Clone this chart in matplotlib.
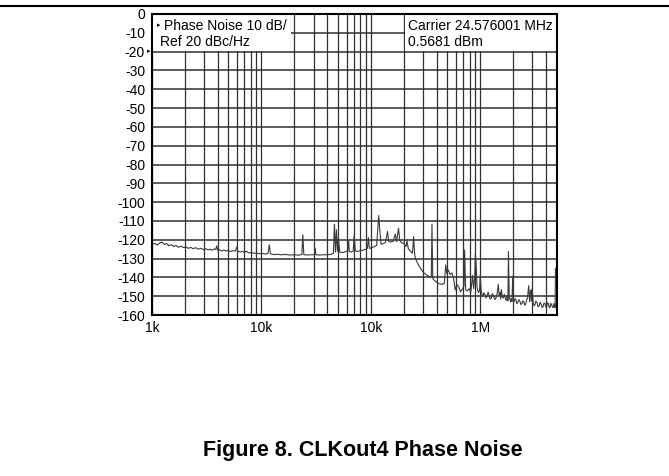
import matplotlib
matplotlib.use("Agg")
import matplotlib.pyplot as plt
from matplotlib.lines import Line2D
from matplotlib.patches import Rectangle
from matplotlib.ticker import FixedLocator, NullFormatter

plt.rcParams["font.family"] = ["Liberation Sans", "DejaVu Sans"]

# offset frequency (Hz) and phase noise (dBc/Hz)
freq_hz = [
    1000, 1060, 1120, 1180, 1240, 1300, 1360, 1420, 1500, 1580,
    1660, 1750, 1840, 1940, 2050, 2150, 2260, 2380, 2500, 2650,
    2800, 2950, 3100, 3250, 3400, 3550, 3700, 3820, 3900, 3980,
    4150, 4350, 4550, 4750, 4950, 5200, 5500, 5800, 5950, 6100,
    6400, 6700, 7000, 7300, 7600, 8000, 8500, 9000, 9600, 10200,
    11000, 11500, 11800, 12100, 13000, 14000, 15000, 16500, 18000, 20000,
    22000, 23400, 23900, 24400, 26000, 28000, 30500, 31000, 31500, 34000,
    37000, 40000, 43000, 45500, 46500, 47500, 48500, 49500, 50500, 52000,
    55000, 58000, 61500, 62500, 63500, 66000, 69000, 70500, 72000, 76000,
    80000, 85000, 90000, 93000, 95000, 97000, 102000, 108000, 113000, 118000,
    121000, 124000, 130000, 136000, 142000, 146000, 152000, 160000, 167000, 172000,
    179000, 184000, 190000, 200000, 210000, 214000, 220000, 230000, 240000, 246000,
    252000, 262000, 275000, 290000, 305000, 320000, 335000, 350000, 357000, 362000,
    368000, 380000, 400000, 420000, 445000, 470000, 483000, 495000, 510000, 530000,
    550000, 570000, 590000, 610000, 635000, 660000, 690000, 710000, 720000, 735000,
    760000, 790000, 820000, 850000, 870000, 890000, 902000, 915000, 935000, 960000,
    985000, 1000000, 1020000, 1050000, 1080000, 1100000, 1130000, 1150000, 1180000, 1200000,
    1230000, 1260000, 1290000, 1320000, 1360000, 1400000, 1430000, 1460000, 1490000, 1510000,
    1540000, 1560000, 1590000, 1620000, 1660000, 1700000, 1730000, 1760000, 1790000, 1810000,
    1840000, 1860000, 1890000, 1920000, 1950000, 1980000, 2010000, 2040000, 2080000, 2120000,
    2160000, 2200000, 2250000, 2300000, 2350000, 2400000, 2450000, 2500000, 2550000, 2600000,
    2650000, 2700000, 2770000, 2830000, 2870000, 2900000, 2940000, 2980000, 3050000, 3100000,
    3150000, 3220000, 3300000, 3370000, 3450000, 3520000, 3600000, 3670000, 3750000, 3820000,
    3900000, 3970000, 4050000, 4120000, 4200000, 4270000, 4350000, 4420000, 4500000, 4570000,
    4650000, 4720000, 4780000, 4830000, 4870000, 4950000,
]
phase_noise_dbc = [
    -122.4, -122.0, -122.8, -121.6, -121.3, -122.5, -122.0, -123.2, -122.6, -123.6,
    -123.0, -124.0, -123.4, -124.2, -123.8, -124.6, -124.0, -124.8, -124.2, -125.0,
    -124.5, -125.3, -124.7, -125.4, -125.0, -125.6, -124.9, -125.2, -123.2, -125.5,
    -125.3, -126.0, -125.4, -126.1, -125.6, -126.2, -125.8, -126.0, -123.8, -126.2,
    -126.5, -126.2, -126.8, -126.0, -127.0, -126.8, -127.2, -127.0, -127.4, -127.3,
    -127.6, -127.2, -122.7, -127.5, -127.9, -127.7, -128.0, -127.8, -128.1, -128.0,
    -128.2, -127.8, -117.4, -127.9, -128.1, -128.0, -127.9, -124.5, -128.0, -128.1,
    -128.0, -127.9, -127.8, -127.2, -111.7, -126.5, -114.7, -126.0, -119.0, -126.6,
    -126.8, -126.4, -126.0, -120.0, -126.2, -126.6, -126.0, -117.4, -125.8, -126.2,
    -125.8, -125.5, -125.0, -124.5, -118.8, -124.6, -124.2, -123.6, -123.0, -107.1,
    -115.6, -122.4, -122.0, -121.5, -115.6, -121.0, -121.2, -120.8, -117.0, -121.0,
    -113.9, -120.4, -121.5, -122.0, -123.6, -120.5, -124.8, -126.0, -127.2, -118.3,
    -128.5, -131.5, -133.8, -136.0, -137.5, -138.5, -139.3, -139.8, -139.0, -111.7,
    -140.6, -141.5, -142.6, -143.4, -143.7, -143.2, -133.4, -138.0, -136.0, -138.5,
    -137.6, -140.5, -146.7, -143.8, -145.0, -147.6, -146.0, -144.5, -125.4, -146.5,
    -147.2, -146.0, -147.8, -139.0, -146.0, -140.0, -128.0, -131.6, -145.5, -148.0,
    -147.0, -138.7, -147.5, -150.3, -148.2, -149.0, -151.0, -150.0, -147.8, -149.2,
    -151.5, -151.2, -148.6, -149.8, -151.8, -150.6, -148.4, -143.7, -149.5, -148.0,
    -151.6, -146.5, -150.2, -151.0, -149.0, -151.5, -152.2, -150.0, -152.4, -126.3,
    -151.0, -150.8, -153.0, -151.5, -152.8, -139.3, -152.0, -152.9, -151.2, -152.0,
    -154.0, -153.5, -151.8, -152.6, -154.4, -154.0, -152.5, -153.0, -154.8, -154.2,
    -152.2, -151.0, -144.4, -153.0, -148.5, -146.7, -152.5, -146.0, -153.8, -155.0,
    -154.8, -152.6, -153.4, -155.6, -155.2, -153.2, -154.2, -156.0, -155.6, -153.6,
    -153.8, -155.8, -155.4, -153.5, -154.0, -156.2, -155.8, -153.8, -154.6, -156.0,
    -155.9, -153.9, -154.5, -156.2, -135.2, -139.6,
]

y_ticks = list(range(0, -170, -10))
x_major = [1e3, 1e4, 1e5, 1e6]
x_labels = ["1k", "10k", "10k", "1M"]  # third label printed as in the source figure
x_minor = [m * d for d in (1e3, 1e4, 1e5, 1e6) for m in range(2, 10) if m * d < 5e6]

fig = plt.figure(figsize=(6.69, 4.76), dpi=100)
ax = fig.add_axes([0.2272, 0.3382, 0.605, 0.6324])

ax.set_xscale("log")
ax.set_xlim(1e3, 5e6)
ax.set_ylim(-160, 0)

ax.xaxis.set_major_locator(FixedLocator(x_major))
ax.xaxis.set_minor_locator(FixedLocator(x_minor))
ax.xaxis.set_minor_formatter(NullFormatter())
ax.set_xticks(x_major, x_labels)
ax.set_yticks(y_ticks, [str(v) for v in y_ticks])
ax.tick_params(axis="both", which="both", length=0, labelsize=10, colors="black")
ax.tick_params(axis="y", pad=5)
ax.tick_params(axis="x", pad=4)

ax.set_axisbelow(True)
ax.grid(True, which="both", axis="x", color="#303030", linewidth=0.9)
ax.grid(True, which="major", axis="y", color="#303030", linewidth=1.1)

for side in ax.spines.values():
    side.set_linewidth(1.5)
    side.set_color("black")

# white label boxes over the top of the grid
ax.add_patch(Rectangle((1e3, -19.5), 1.85e4 - 1e3, 19.5, facecolor="white",
                       edgecolor="none", zorder=1))
ax.add_patch(Rectangle((2.06e5, -19.5), 5e6 - 2.06e5, 19.5, facecolor="white",
                       edgecolor="none", zorder=1))

ax.plot(freq_hz, phase_noise_dbc, color="#3a3a3a", linewidth=0.8, zorder=2)

ax.text(0.012, 0.960, "\u25b8", transform=ax.transAxes, fontsize=5,
        va="center", ha="left", zorder=3)
ax.text(0.030, 0.960, "Phase Noise 10 dB/", transform=ax.transAxes,
        fontsize=10, va="center", ha="left", zorder=3)
ax.text(0.020, 0.907, "Ref 20 dBc/Hz", transform=ax.transAxes,
        fontsize=10, va="center", ha="left", zorder=3)
ax.text(0.633, 0.960, "Carrier 24.576001 MHz", transform=ax.transAxes,
        fontsize=10, va="center", ha="left", zorder=3)
ax.text(0.633, 0.907, "0.5681 dBm", transform=ax.transAxes,
        fontsize=10, va="center", ha="left", zorder=3)
# reference level marker beside the -20 label
ax.text(-0.004, -20, "\u25b8", transform=ax.get_yaxis_transform(), fontsize=5,
        va="center", ha="right", clip_on=False)

fig.add_artist(Line2D([0, 1], [0.987, 0.987], color="black", linewidth=1.5))
fig.text(0.543, 0.054, "Figure 8. CLKout4 Phase Noise", fontsize=15.5,
         fontweight="bold", ha="center", va="center")

fig.savefig("out.png", dpi=100)
